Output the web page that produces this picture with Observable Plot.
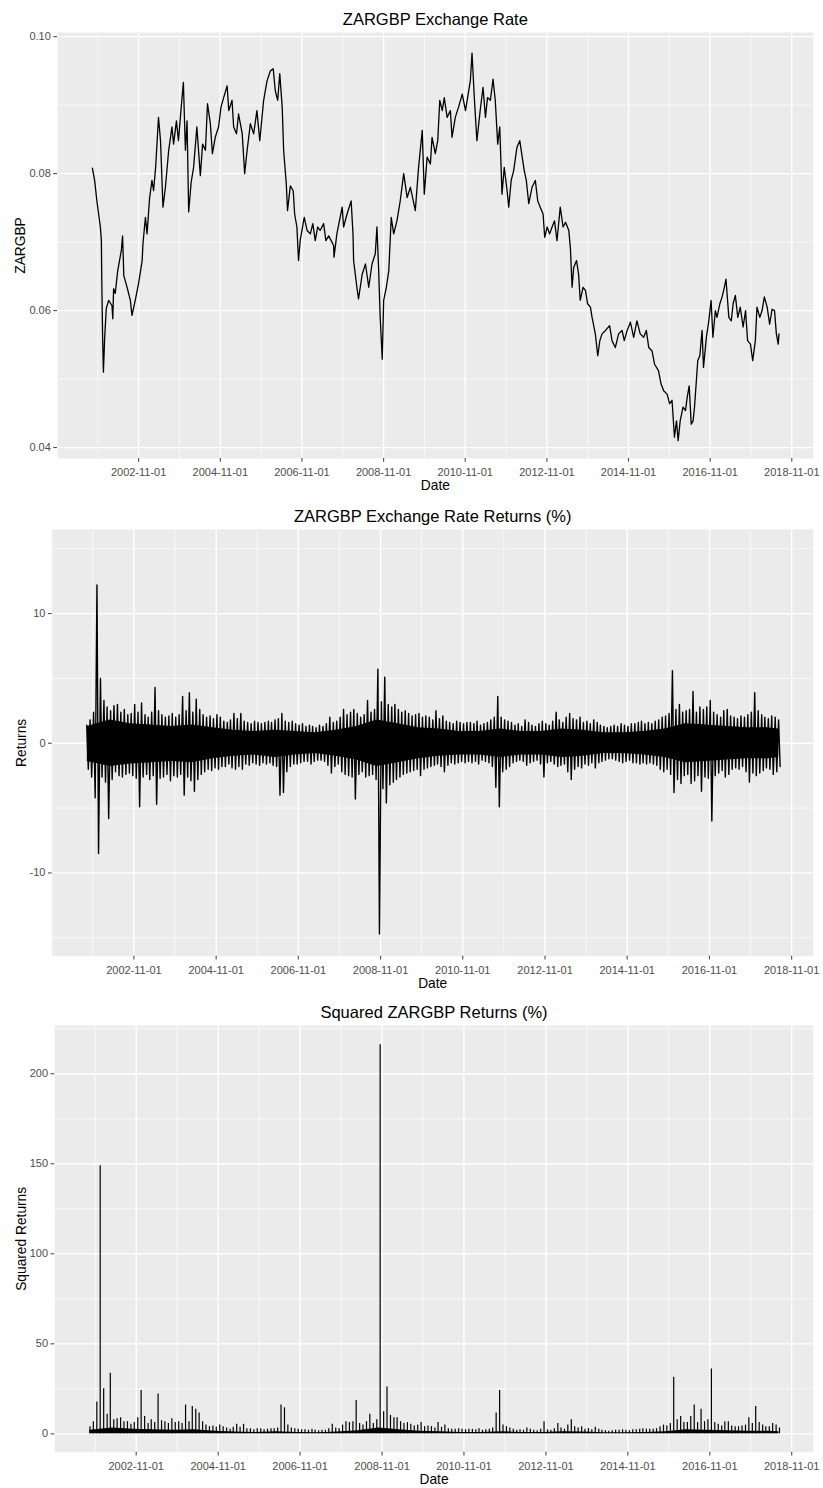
<!DOCTYPE html>
<html><head><meta charset="utf-8">
<script src="https://cdn.jsdelivr.net/npm/d3@7"></script>
<script src="https://cdn.jsdelivr.net/npm/@observablehq/plot@0.6"></script>
<style>
body{margin:0;background:#fff;}
#wrap{position:relative;width:823px;height:1488px;overflow:hidden;}
#wrap > div{position:absolute;left:0;}
</style></head><body>
<div id="wrap"><div id="p1" style="top:0px"></div><div id="p2" style="top:497px"></div><div id="p3" style="top:994px"></div></div>
<script>
// ---------- DATA ----------
// Exchange rate: [decimal year, ZARGBP]
const rateSeries = [
[2001.70,0.0808],[2001.755,0.0790],[2001.81,0.0760],[2001.895,0.0722],[2001.92,0.0702],[2001.93,0.0644],[2001.95,0.0563],[2001.97,0.0510],
[2002.00,0.0559],[2002.04,0.0603],[2002.10,0.0615],[2002.18,0.0607],[2002.20,0.0588],[2002.22,0.0632],[2002.26,0.0625],[2002.32,0.0658],
[2002.41,0.0688],[2002.44,0.0709],[2002.47,0.0651],[2002.55,0.0634],[2002.63,0.0615],[2002.67,0.0593],[2002.75,0.0615],[2002.83,0.0639],
[2002.92,0.0673],[2002.94,0.0698],[2003.00,0.0736],[2003.04,0.0712],[2003.10,0.0763],[2003.16,0.0790],[2003.20,0.0775],[2003.25,0.0809],
[2003.32,0.0882],[2003.37,0.0848],[2003.43,0.0751],[2003.49,0.0780],[2003.57,0.0834],[2003.65,0.0868],[2003.69,0.0843],[2003.76,0.0877],
[2003.81,0.0848],[2003.87,0.0892],[2003.93,0.0933],[2003.98,0.0834],[2004.02,0.0877],[2004.06,0.0744],[2004.12,0.0787],[2004.18,0.0809],
[2004.26,0.0868],[2004.345,0.0797],[2004.40,0.0843],[2004.47,0.0834],[2004.52,0.0902],[2004.59,0.0873],[2004.64,0.0829],[2004.71,0.0853],
[2004.79,0.0868],[2004.85,0.0897],[2004.915,0.0911],[2005.00,0.0928],[2005.04,0.0892],[2005.12,0.0907],[2005.16,0.0868],[2005.23,0.0858],
[2005.28,0.0887],[2005.37,0.0858],[2005.43,0.0800],[2005.49,0.0834],[2005.57,0.0873],[2005.65,0.0858],[2005.73,0.0892],[2005.80,0.0848],
[2005.895,0.0907],[2005.98,0.0936],[2006.06,0.0950],[2006.13,0.0953],[2006.18,0.0921],[2006.24,0.0907],[2006.29,0.0946],[2006.35,0.0897],
[2006.385,0.0834],[2006.45,0.0785],[2006.48,0.0746],[2006.55,0.0782],[2006.62,0.0775],[2006.655,0.0741],[2006.71,0.0722],[2006.75,0.0673],
[2006.79,0.0702],[2006.89,0.0736],[2006.96,0.0717],[2007.04,0.0712],[2007.10,0.0727],[2007.16,0.0702],[2007.22,0.0722],[2007.28,0.0717],
[2007.365,0.0727],[2007.42,0.0702],[2007.49,0.0709],[2007.61,0.0695],[2007.62,0.0678],[2007.69,0.0712],[2007.82,0.0751],[2007.855,0.0722],
[2007.94,0.0741],[2008.04,0.0760],[2008.085,0.0712],[2008.10,0.0673],[2008.18,0.0634],[2008.22,0.0617],[2008.31,0.0653],[2008.39,0.0668],
[2008.47,0.0634],[2008.55,0.0668],[2008.63,0.0683],[2008.67,0.0722],[2008.71,0.0663],[2008.75,0.0590],[2008.80,0.0529],[2008.835,0.0615],
[2008.90,0.0634],[2008.96,0.0658],[2009.02,0.0736],[2009.08,0.0712],[2009.16,0.0731],[2009.24,0.0760],[2009.325,0.0800],[2009.41,0.0765],
[2009.49,0.0780],[2009.61,0.0746],[2009.69,0.0809],[2009.78,0.0863],[2009.83,0.0770],[2009.90,0.0824],[2009.98,0.0814],[2010.02,0.0853],
[2010.10,0.0829],[2010.16,0.0848],[2010.21,0.0907],[2010.27,0.0892],[2010.32,0.0911],[2010.39,0.0882],[2010.47,0.0892],[2010.51,0.0853],
[2010.59,0.0882],[2010.67,0.0897],[2010.76,0.0916],[2010.84,0.0892],[2010.92,0.0921],[2010.96,0.0936],[2011.00,0.0976],[2011.06,0.0907],
[2011.12,0.0848],[2011.20,0.0892],[2011.27,0.0926],[2011.33,0.0882],[2011.38,0.0911],[2011.45,0.0907],[2011.515,0.0938],[2011.57,0.0907],
[2011.63,0.0843],[2011.68,0.0868],[2011.735,0.0770],[2011.79,0.0809],[2011.86,0.0775],[2011.90,0.0751],[2011.96,0.0790],[2012.02,0.0804],
[2012.10,0.0838],[2012.17,0.0848],[2012.23,0.0824],[2012.28,0.0804],[2012.33,0.0790],[2012.39,0.0756],[2012.47,0.0780],[2012.55,0.0790],
[2012.61,0.0760],[2012.67,0.0751],[2012.74,0.0741],[2012.78,0.0707],[2012.84,0.0722],[2012.90,0.0712],[2012.96,0.0722],[2013.02,0.0731],
[2013.08,0.0702],[2013.16,0.0751],[2013.23,0.0722],[2013.29,0.0729],[2013.37,0.0717],[2013.41,0.0690],[2013.45,0.0634],[2013.49,0.0663],
[2013.56,0.0673],[2013.61,0.0653],[2013.65,0.0615],[2013.72,0.0634],[2013.78,0.0629],[2013.83,0.0610],[2013.90,0.0605],[2013.94,0.0590],
[2014.02,0.0566],[2014.08,0.0534],[2014.13,0.0556],[2014.185,0.0566],[2014.27,0.0571],[2014.37,0.0578],[2014.43,0.0556],[2014.51,0.0546],
[2014.59,0.0566],[2014.675,0.0571],[2014.73,0.0556],[2014.80,0.0571],[2014.88,0.0583],[2014.96,0.0561],[2015.04,0.0585],[2015.12,0.0566],
[2015.205,0.0561],[2015.27,0.0571],[2015.33,0.0546],[2015.41,0.0541],[2015.47,0.0522],[2015.57,0.0512],[2015.63,0.0493],[2015.695,0.0483],
[2015.78,0.0478],[2015.84,0.0464],[2015.90,0.0469],[2015.96,0.0415],[2016.01,0.0439],[2016.05,0.0410],[2016.10,0.0439],[2016.17,0.0459],
[2016.23,0.0454],[2016.27,0.0473],[2016.32,0.0490],[2016.37,0.0434],[2016.415,0.0439],[2016.45,0.0459],[2016.49,0.0493],[2016.53,0.0527],
[2016.58,0.0534],[2016.635,0.0571],[2016.67,0.0517],[2016.74,0.0561],[2016.80,0.0585],[2016.855,0.0615],[2016.90,0.0561],[2016.96,0.0600],
[2017.00,0.0590],[2017.07,0.0610],[2017.125,0.0620],[2017.18,0.0634],[2017.22,0.0646],[2017.29,0.0590],[2017.35,0.0585],[2017.395,0.0610],
[2017.45,0.0622],[2017.51,0.0590],[2017.57,0.0605],[2017.64,0.0576],[2017.70,0.0600],[2017.75,0.0556],[2017.82,0.0551],[2017.875,0.0527],
[2017.94,0.0556],[2017.98,0.0605],[2018.05,0.0590],[2018.105,0.0600],[2018.16,0.0620],[2018.23,0.0605],[2018.29,0.0580],[2018.35,0.0602],
[2018.41,0.0600],[2018.455,0.0566],[2018.50,0.0551],[2018.52,0.0566]
];

// Daily returns (%), monthly extremes from Sep 2001 to Jul 2018
const retStart = [2001, 8]; // year, month index (Sep)
const retHigh = [
 1.4,1.8,2.4,12.2,
 5.0,3.3,2.8,2.5,2.9,3.0,2.4,2.6,2.2,2.3,3.0,2.4,
 3.1,2.2,2.0,2.4,4.3,2.5,2.2,2.0,2.1,2.3,2.0,2.2,
 3.6,2.5,3.9,2.4,3.4,2.6,2.2,2.0,2.1,1.9,2.2,2.0,
 1.7,1.6,1.8,2.3,1.9,2.3,1.7,1.6,1.5,1.7,1.6,1.5,
 1.6,1.7,1.6,1.8,1.9,2.3,1.7,1.6,1.7,1.5,1.4,1.5,
 1.3,1.4,1.3,1.2,1.4,1.3,1.5,2.0,1.6,1.7,2.0,2.6,
 2.2,2.4,2.6,2.3,2.0,2.2,3.3,2.4,2.6,5.7,3.2,5.1,
 3.0,2.8,3.0,2.6,2.4,2.5,2.3,2.1,2.2,2.3,2.0,2.1,
 2.0,1.8,2.5,1.9,2.1,1.7,1.6,1.5,1.7,1.6,1.5,1.6,
 1.6,1.5,1.7,1.4,1.5,1.6,1.8,2.0,3.6,2.0,1.8,1.7,
 1.6,1.4,1.5,1.3,1.8,1.6,1.4,1.3,1.5,1.7,1.5,1.4,
 1.7,2.4,1.8,1.6,2.0,2.3,1.9,1.8,2.0,1.6,1.7,1.5,
 1.8,1.6,1.4,1.3,1.2,1.3,1.4,1.3,1.5,1.4,1.3,1.5,
 1.5,1.6,1.7,1.5,1.6,1.5,1.7,1.8,2.0,2.1,2.3,5.6,
 2.6,3.0,2.4,2.5,2.6,4.0,2.4,2.8,2.6,2.8,3.3,2.4,
 2.2,2.0,2.5,2.6,2.1,2.0,1.9,2.1,2.0,2.2,2.4,3.9,
 2.5,2.2,2.0,1.9,2.1,2.0,1.8
];
const retLow = [
 -2.0,-2.6,-4.2,-8.5,
 -2.6,-3.0,-5.8,-2.8,-2.2,-2.5,-2.6,-2.4,-2.3,-2.5,-2.7,-4.9,
 -2.6,-2.4,-2.8,-2.5,-4.7,-2.7,-2.6,-2.4,-2.9,-2.5,-2.6,-2.4,
 -4.0,-2.6,-2.9,-3.7,-2.8,-2.4,-2.2,-2.0,-2.1,-1.9,-2.0,-1.8,
 -1.8,-1.6,-1.9,-2.0,-1.8,-2.0,-1.6,-1.7,-1.5,-1.6,-1.7,-1.5,
 -1.6,-1.5,-1.7,-1.8,-4.0,-3.8,-2.2,-1.8,-1.6,-1.6,-1.5,-1.4,
 -1.4,-1.6,-1.4,-1.3,-1.3,-1.4,-1.7,-2.3,-1.8,-1.6,-2.2,-2.4,
 -2.5,-2.6,-4.3,-2.4,-2.2,-2.6,-2.5,-2.4,-2.8,-14.7,-3.5,-4.6,
 -3.2,-3.0,-2.8,-2.6,-2.4,-2.3,-2.2,-2.1,-2.0,-2.5,-2.0,-1.9,
 -1.8,-1.7,-1.6,-1.8,-2.2,-1.7,-1.5,-1.6,-1.5,-1.4,-1.5,-1.4,
 -1.5,-1.4,-1.6,-1.3,-1.4,-1.5,-1.8,-3.4,-4.9,-2.2,-2.0,-1.8,
 -1.5,-1.4,-1.3,-1.4,-1.7,-1.5,-1.4,-1.3,-1.6,-2.6,-1.5,-1.4,
 -1.6,-1.8,-1.7,-1.6,-2.2,-2.8,-2.0,-1.8,-1.9,-1.6,-1.7,-1.5,
 -1.9,-1.5,-1.4,-1.3,-1.2,-1.2,-1.3,-1.4,-1.5,-1.4,-1.3,-1.5,
 -1.5,-1.6,-1.5,-1.6,-1.5,-1.6,-1.7,-2.0,-2.2,-2.0,-2.4,-3.8,
 -2.8,-3.1,-2.5,-2.4,-3.1,-2.9,-2.5,-3.7,-2.6,-2.7,-6.0,-2.5,
 -2.3,-2.1,-2.6,-2.4,-2.0,-1.9,-2.0,-1.8,-2.2,-3.0,-2.3,-2.5,
 -2.3,-2.1,-1.9,-2.0,-2.4,-2.2,-1.8
];
// Dense core of the return band (half-yearly)
const coreYear = [2001.70,2002.25,2002.75,2003.25,2003.75,2004.25,2004.75,2005.25,2005.75,2006.25,2006.75,2007.25,2007.75,2008.25,2008.75,2009.25,2009.75,2010.25,2010.75,2011.25,2011.75,2012.25,2012.75,2013.25,2013.75,2014.25,2014.75,2015.25,2015.75,2016.25,2016.75,2017.25,2017.75,2018.25,2018.52];
const coreHigh = [1.3,1.8,1.5,1.4,1.3,1.4,1.2,1.0,0.9,1.0,0.9,0.8,1.0,1.3,1.8,1.5,1.2,1.1,0.9,0.9,1.1,0.9,0.9,1.1,1.0,0.8,0.8,0.9,1.1,1.5,1.4,1.3,1.2,1.2,1.1];
const coreLow  = [-1.4,-1.8,-1.6,-1.5,-1.4,-1.5,-1.2,-1.0,-0.9,-1.1,-0.9,-0.8,-1.0,-1.3,-1.8,-1.5,-1.2,-1.0,-0.9,-0.9,-1.1,-0.9,-0.9,-1.1,-1.0,-0.8,-0.8,-0.9,-1.1,-1.5,-1.4,-1.3,-1.2,-1.2,-1.1];

// Axis ticks
const xMajorYears = [2002,2004,2006,2008,2010,2012,2014,2016,2018];
const xMinorYears = [2001,2003,2005,2007,2009,2011,2013,2015,2017];
const rateTicks = [0.04,0.06,0.08,0.10], rateMinor = [0.05,0.07,0.09];
const retTicks = [-10,0,10], retMinor = [-15,-5,5,15];
const sqTicks = [0,50,100,150,200], sqMinor = [25,75,125,175,225];

// ---------- helpers ----------
const FONT = "'Liberation Sans', Arial, sans-serif";
function yd(t){const y=Math.floor(t);const a=Date.UTC(y,0,1),b=Date.UTC(y+1,0,1);return new Date(a+(t-y)*(b-a));}
const xDomain = [yd(2000.845), yd(2019.358)];
const majorX = xMajorYears.map(y=>new Date(Date.UTC(y,10,1)));
const minorX = xMinorYears.map(y=>new Date(Date.UTC(y,10,1)));

const rate = rateSeries.map(([t,v])=>({date:yd(t), value:v}));
const ret = retHigh.map((h,i)=>({date:new Date(Date.UTC(retStart[0], retStart[1]+i, 15)), hi:h, lo:retLow[i]}));
ret.forEach(d=>{d.sq=Math.max(d.hi*d.hi, d.lo*d.lo);});
// line through each month's high and low (high early in month, low later)
const retLine = ret.flatMap((d,i)=>{
  const y=retStart[0], m=retStart[1]+i;
  return [{date:new Date(Date.UTC(y,m,8)), r:d.hi}, {date:new Date(Date.UTC(y,m,22)), r:d.lo}];
});
const core = coreYear.map((t,i)=>({date:yd(t), hi:coreHigh[i], lo:coreLow[i], sq:Math.max(coreHigh[i]**2, coreLow[i]**2)}));

function panel({height, mt, mb, ml, yDomain, yMajor, yMinor, yFmt, title, ylab, ylabDx, marks}){
  return Plot.plot({
    width: 823, height, marginTop: mt, marginBottom: mb, marginLeft: ml, marginRight: 10.3,
    style: {fontFamily: FONT, background: "white", overflow: "visible"},
    x: {type: "utc", domain: xDomain},
    y: {domain: yDomain},
    marks: [
      Plot.frame({fill: "#EBEBEB", stroke: "none"}),
      Plot.ruleY(yMinor, {stroke: "white", strokeWidth: 0.67}),
      Plot.ruleX(minorX, {stroke: "white", strokeWidth: 0.67}),
      Plot.ruleY(yMajor, {stroke: "white", strokeWidth: 1.33}),
      Plot.ruleX(majorX, {stroke: "white", strokeWidth: 1.33}),
      ...marks,
      Plot.axisX(majorX, {tickFormat: d3.utcFormat("%Y-%m-%d"), tickSize: 3.7, tickPadding: 6, fontSize: 11, color: "#4D4D4D", strokeWidth: 1.1, label: null}),
      Plot.axisY(yMajor, {tickFormat: yFmt, tickSize: 3.7, tickPadding: 3, fontSize: 11, color: "#4D4D4D", strokeWidth: 1.1, label: null}),
      Plot.text([title], {frameAnchor: "top", lineAnchor: "middle", textAnchor: "middle", dy: -13.2, fontSize: 16.5, fill: "black"}),
      Plot.text(["Date"], {frameAnchor: "bottom", lineAnchor: "middle", textAnchor: "middle", dy: 27, fontSize: 13.75, fill: "black"}),
      Plot.text([ylab], {frameAnchor: "left", lineAnchor: "middle", textAnchor: "middle", dx: ylabDx, rotate: -90, fontSize: 13.75, fill: "black"})
    ]
  });
}

document.getElementById("p1").append(panel({
  height: 497, mt: 32, mb: 39, ml: 57,
  yDomain: [0.0384, 0.1006], yMajor: rateTicks, yMinor: rateMinor, yFmt: d3.format(".2f"),
  title: "ZARGBP Exchange Rate", ylab: "ZARGBP", ylabDx: -36.7,
  marks: [Plot.line(rate, {x: "date", y: "value", stroke: "black", strokeWidth: 1.3})]
}));

document.getElementById("p2").append(panel({
  height: 497, mt: 32, mb: 38.3, ml: 51.7,
  yDomain: [-16.42, 16.48], yMajor: retTicks, yMinor: retMinor, yFmt: d => String(d),
  title: "ZARGBP Exchange Rate Returns (%)", ylab: "Returns", ylabDx: -31.1,
  marks: [
    Plot.areaY(core, {x: "date", y1: "lo", y2: "hi", fill: "black"}),
    Plot.line(retLine, {x: "date", y: "r", stroke: "black", strokeWidth: 1.4})
  ]
}));

document.getElementById("p3").append(panel({
  height: 494, mt: 31, mb: 36.3, ml: 54.3,
  yDomain: [-10.2, 226.8], yMajor: sqTicks, yMinor: sqMinor, yFmt: d => String(d),
  title: "Squared ZARGBP Returns (%)", ylab: "Squared Returns", ylabDx: -33.7,
  marks: [
    Plot.areaY(core, {x: "date", y1: 0, y2: "sq", fill: "black"}),
    Plot.ruleX(ret, {x: "date", y1: 0, y2: "sq", stroke: "black", strokeWidth: 1.2})
  ]
}));
</script>
</body></html>
